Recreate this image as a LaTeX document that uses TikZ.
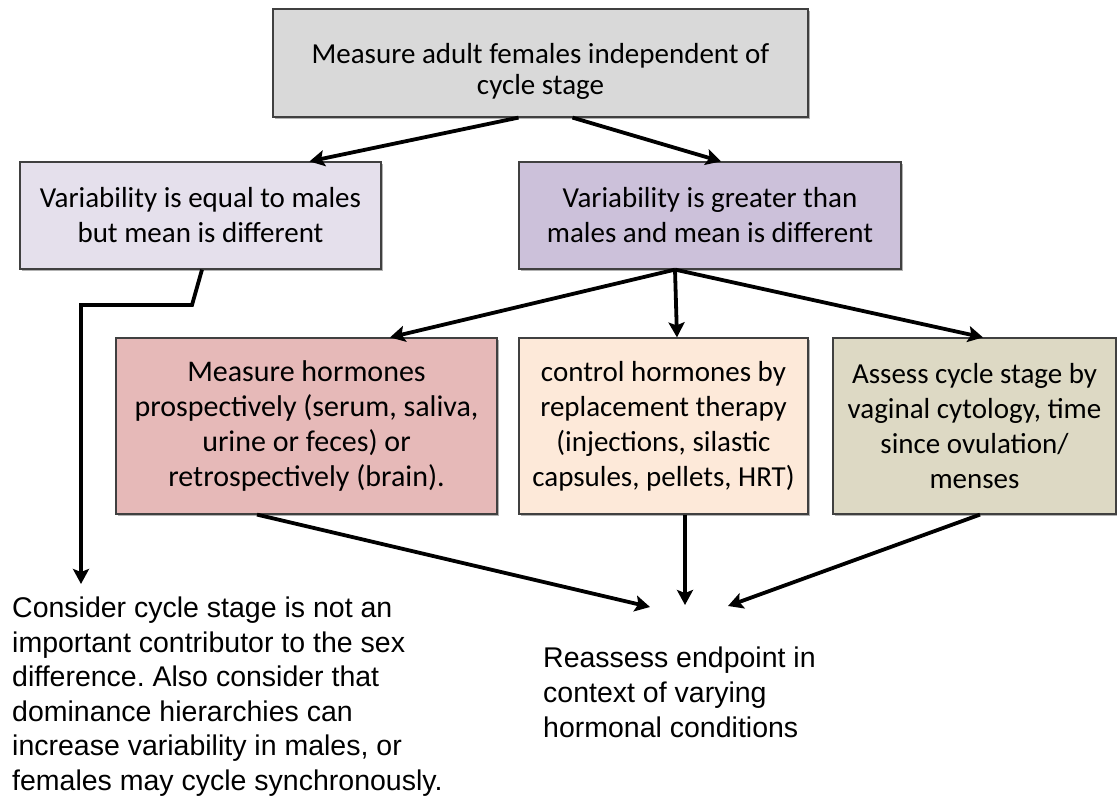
\documentclass[tikz,border=0pt]{standalone}
\usepackage{fontspec}
\setmainfont{Carlito}
\newfontfamily\arialfont{Liberation Sans}
\usetikzlibrary{arrows.meta,calc,shadows}
\definecolor{cTop}{HTML}{D9D9D9}
\definecolor{cEq}{HTML}{E5E0EC}
\definecolor{cGt}{HTML}{CCC1DA}
\definecolor{cRed}{HTML}{E6B9B8}
\definecolor{cPeach}{HTML}{FDE9D9}
\definecolor{cOlive}{HTML}{DDD9C4}
\frenchspacing
\begin{document}
\begin{tikzpicture}[x=1pt,y=-1pt,
  box/.style={draw=black!75, line width=1.2pt, rectangle, align=center, inner sep=0pt,
    font=\fontsize{29}{35}\selectfont,
    drop shadow={opacity=0.3, shadow xshift=1.5pt, shadow yshift=-1.5pt, fill=black}},
  arr/.style={line width=3.8pt, black, -{Stealth[length=15pt,width=16pt,inset=3pt]}},
  plaintext/.style={font=\arialfont\fontsize{28.5}{34.5}\selectfont, align=left, inner sep=0pt}]
\useasboundingbox (0,0) rectangle (1117,796);

\node[box, fill=cTop, minimum width=535pt, minimum height=108pt,
      font=\fontsize{29}{31}\selectfont] (top) at (540.5,63)
  {\rule{0pt}{36pt}Measure adult females independent of\\cycle stage};
\node[box, fill=cEq, minimum width=361pt, minimum height=107pt] (vareq) at (200.5,215.5)
  {Variability is equal to males\\but mean is different};
\node[box, fill=cGt, minimum width=382pt, minimum height=107pt] (vargt) at (710,215.5)
  {Variability is greater than\\males and mean is different};
\node[box, fill=cRed, minimum width=381pt, minimum height=176pt,
      font=\fontsize{30}{35}\selectfont] (red) at (306.5,426)
  {Measure hormones\\prospectively (serum, saliva,\\urine or feces) or\\retrospectively (brain).};
\node[box, fill=cPeach, minimum width=289pt, minimum height=176pt] (peach) at (663.5,426)
  {control hormones by\\replacement therapy\\(injections, silastic\\capsules, pellets, HRT)};
\node[box, fill=cOlive, minimum width=283pt, minimum height=176pt] (olive) at (974.5,426)
  {Assess cycle stage by\\vaginal cytology, time\\since ovulation/\\menses};

\node[plaintext, anchor=north west] (consider) at (12,597)
  {Consider cycle stage is not an\\important contributor to the sex\\difference. Also consider that\\dominance hierarchies can\\increase variability in males, or\\females may cycle synchronously.};
\node[plaintext, anchor=north west, font=\arialfont\fontsize{28.5}{35}\selectfont] (reassess) at (543,647)
  {Reassess endpoint in\\context of varying\\hormonal conditions};

\coordinate (r1) at (650,607);
\coordinate (r2) at (685,605);
\coordinate (r3) at (728,606);
\coordinate (b1) at (192,305);
\coordinate (b2) at (81,305);
\coordinate (c1) at (81,584);

\draw[arr] ([xshift=-22pt]top.south) -- ([xshift=109pt]vareq.north);
\draw[arr] ([xshift=32pt]top.south) -- ([xshift=11pt]vargt.north);

\draw[arr, line join=miter] ([xshift=1.5pt]vareq.south) -- (b1) -- (b2) -- (c1);

\draw[arr] ([xshift=-35pt]vargt.south) -- ([xshift=83.5pt]red.north);
\draw[arr] ([xshift=-35pt]vargt.south) -- ([xshift=13.5pt]peach.north);
\draw[arr] ([xshift=-35pt]vargt.south) -- ([xshift=8.5pt]olive.north);

\draw[arr] ([xshift=-49.5pt]red.south) -- (r1);
\draw[arr] ([xshift=21.5pt]peach.south) -- (r2);
\draw[arr] ([xshift=5.5pt]olive.south) -- (r3);
\end{tikzpicture}
\end{document}
